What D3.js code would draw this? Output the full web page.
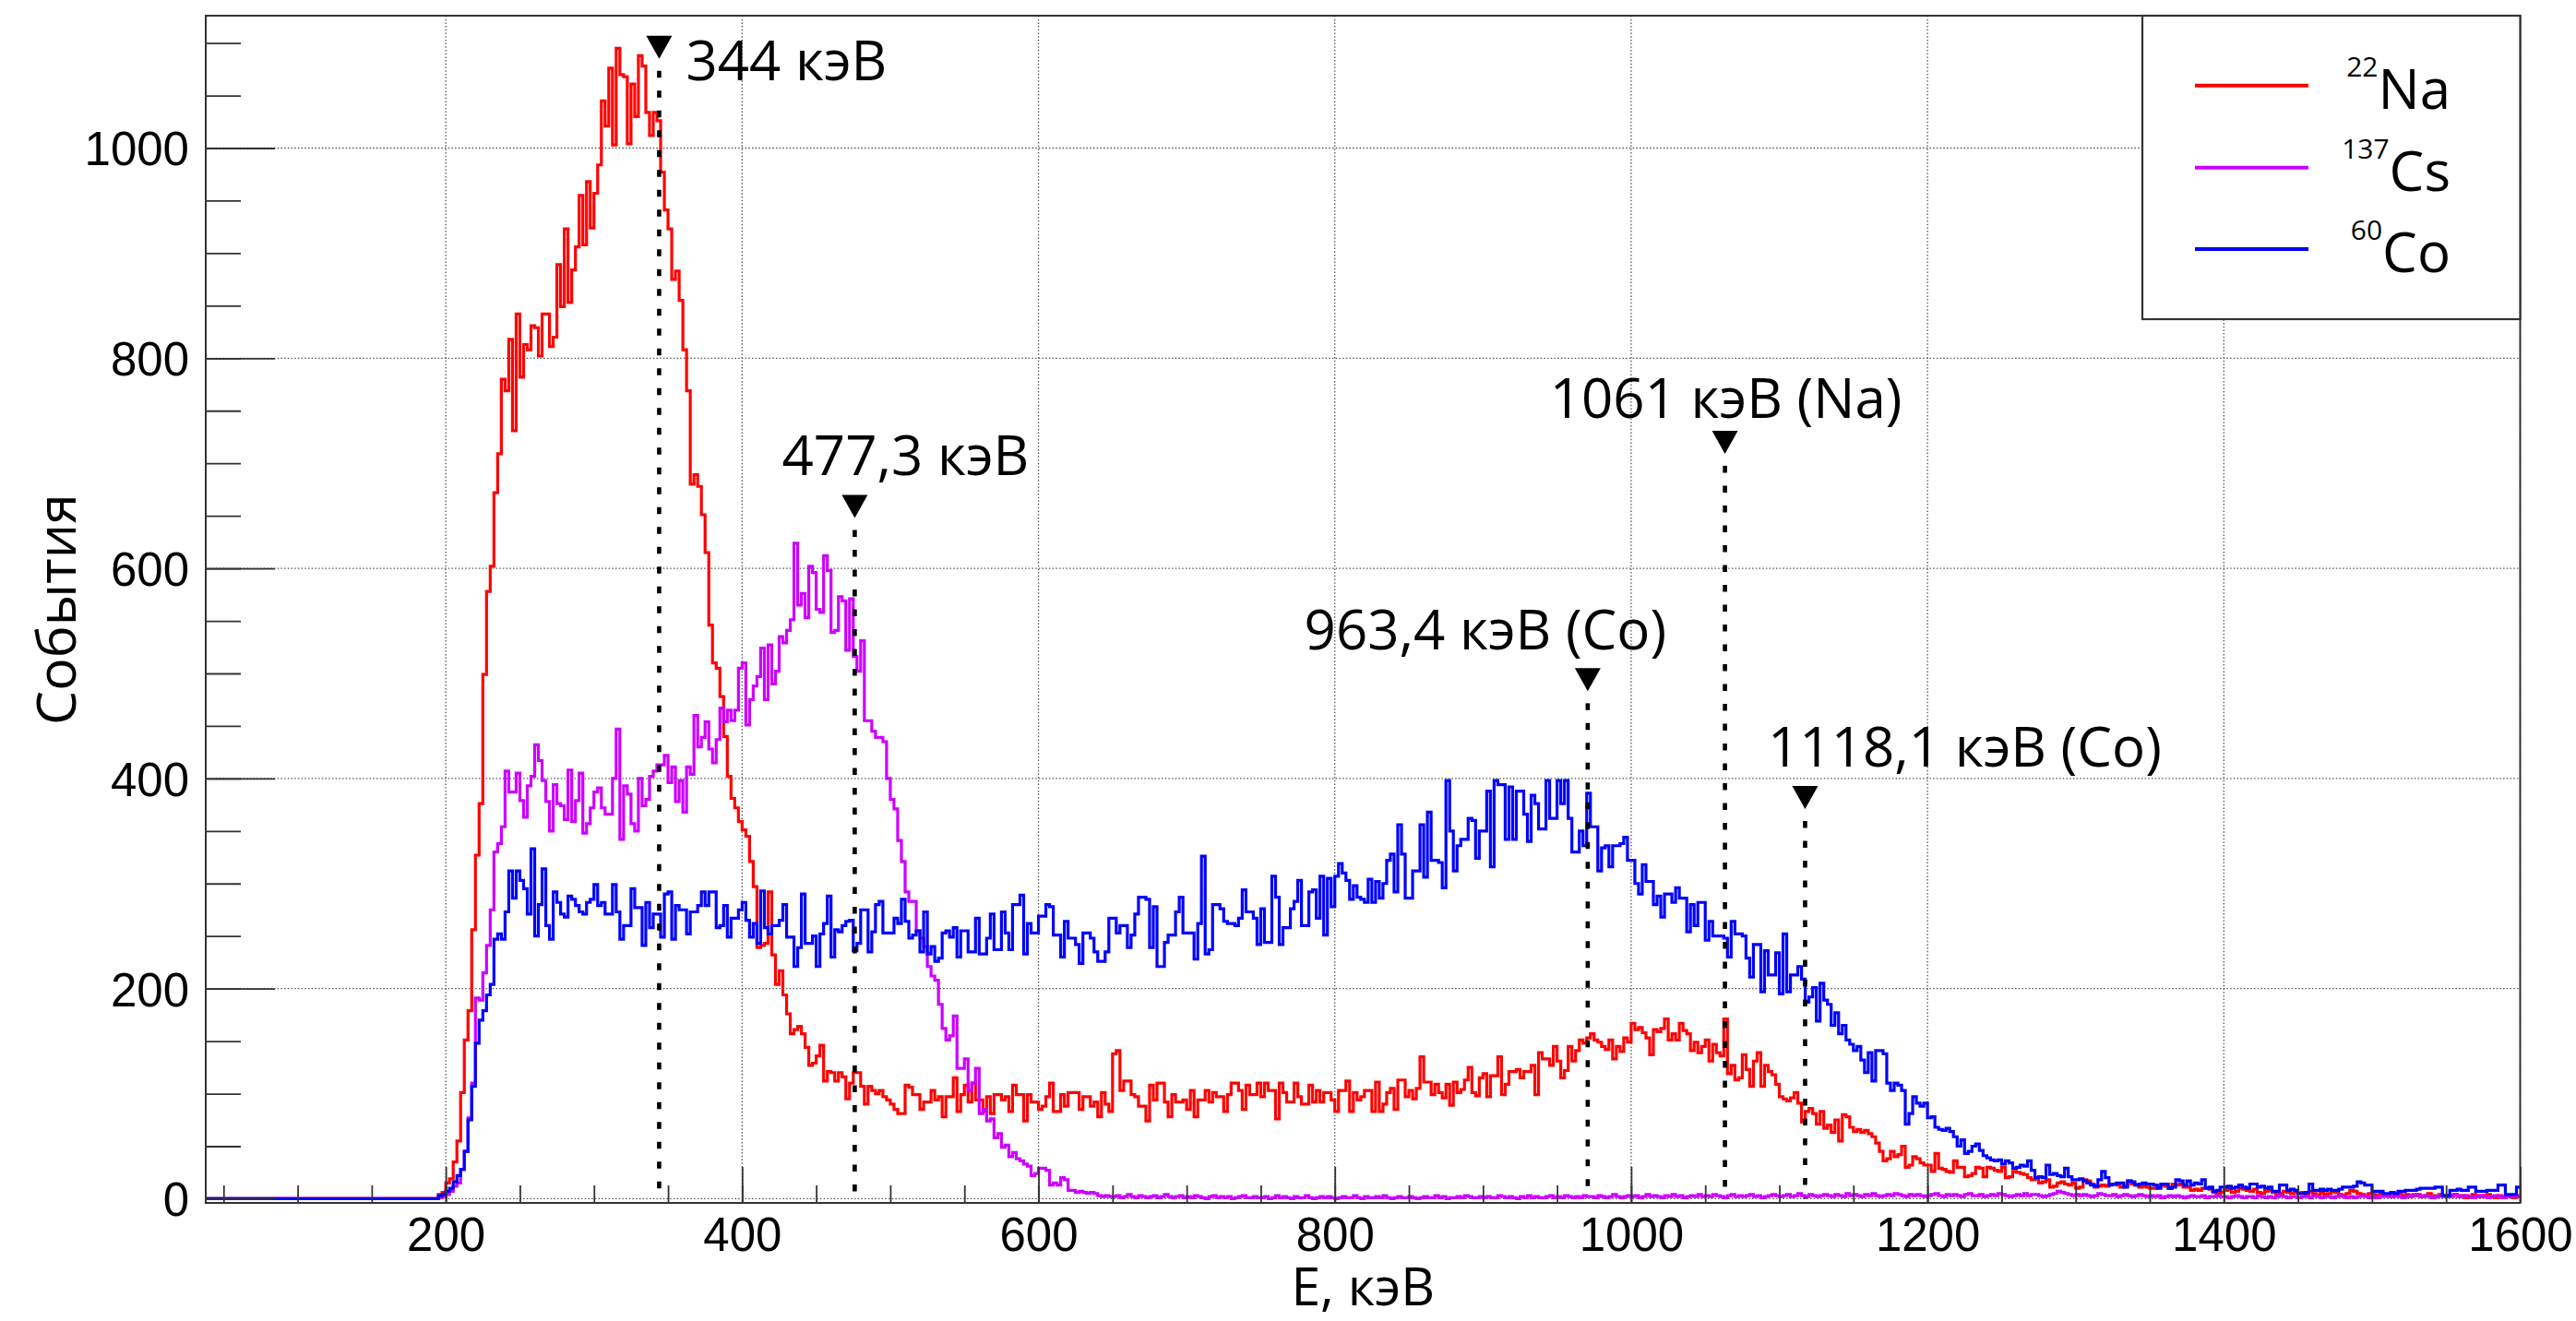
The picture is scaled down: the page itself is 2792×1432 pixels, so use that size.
<!DOCTYPE html>
<html><head><meta charset="utf-8">
<script src="https://cdn.jsdelivr.net/npm/d3@7"></script>
<style>html,body{margin:0;padding:0;background:#fff;} svg{display:block;}</style>
</head><body>
<svg id="chart" width="2792" height="1432"></svg>
<script>
// ---------------- DATA ----------------
// histogram bins: lower edge = binStart + i*binWidth (keV); each row = 50 keV (20 bins)
const binStart = 0;
const binWidth = 2.5;

const naCounts = [
0,0,0,0,0,0,0,0,0,0,0,0,0,0,0,0,0,0,0,0,
0,0,0,0,0,0,0,0,0,0,0,0,0,0,0,0,0,0,0,0,
0,0,0,0,0,0,0,0,0,0,0,0,0,0,0,0,0,0,0,0,
0,0,0,0,0,0,0,0,0,0,0,0,0,0,0,0,0,0,4,6,
15,19,35,55,101,151,179,256,327,376,499,578,602,672,709,780,769,818,731,842,
782,813,808,831,829,802,842,842,811,820,889,849,923,853,884,906,955,908,968,924,
957,984,1045,1021,1076,1003,1095,1070,1068,1004,1061,1030,1088,1078,1034,1012,1034,1026,977,941,
923,875,883,855,808,769,680,689,678,651,615,546,510,505,478,440,402,381,372,359,
351,345,321,297,239,241,243,292,232,204,217,194,176,157,161,164,157,144,127,129,
136,146,112,121,120,112,120,116,95,110,120,120,107,90,107,103,100,103,97,94,
90,85,81,81,108,106,99,99,85,92,92,103,94,97,78,97,97,115,83,99,
108,92,110,94,94,83,97,81,99,99,94,97,83,108,99,99,74,99,92,92,
85,88,97,110,83,83,99,88,101,101,101,85,97,97,88,92,78,101,90,83,
138,141,103,112,112,99,97,88,88,74,108,94,110,110,92,78,99,92,92,94,
85,103,78,94,94,103,92,101,97,97,83,99,110,110,103,85,108,99,99,110,
97,110,103,103,76,110,101,92,92,110,97,90,90,108,92,103,92,101,101,94,
83,103,103,112,83,101,94,97,103,103,83,111,83,90,101,105,85,113,113,97,
103,95,105,135,111,111,99,109,101,96,109,89,111,101,104,113,125,101,98,115,
119,97,117,117,135,99,109,121,121,123,115,121,121,127,99,139,133,133,127,145,
131,115,122,145,131,141,151,148,153,157,151,149,145,142,151,133,145,140,153,149,
167,161,163,158,153,137,161,159,162,171,151,157,151,167,160,157,141,149,139,145,
151,131,147,139,136,171,119,127,113,115,137,123,107,131,139,107,127,121,118,109,
97,95,93,96,101,91,73,83,86,81,71,83,67,70,63,75,55,80,78,68,
64,66,63,65,62,59,53,45,36,38,45,40,42,50,30,32,40,38,34,32,
32,26,43,29,28,26,25,36,30,30,21,22,24,30,29,21,30,29,27,26,
30,20,21,26,25,24,23,20,18,19,15,16,18,11,12,15,16,14,13,15,
10,11,18,17,14,11,12,13,12,14,14,13,11,12,17,14,13,11,12,11,
10,10,12,13,12,10,14,13,14,11,11,8,9,8,10,10,9,6,5,6,
8,9,6,7,10,9,8,7,9,6,5,7,8,6,4,5,7,6,5,6,
5,6,4,7,5,3,6,4,5,7,6,4,3,5,8,7,5,4,3,5,
4,3,5,4,3,2,4,5,3,4,2,3,4,2,3,5,3,2,4,3,
2,3,4,2,3,1,2,4,3,2,3,4,2,1,3,2,3,2,1,2
];

const csCounts = [
0,0,0,0,0,0,0,0,0,0,0,0,0,0,0,0,0,0,0,0,
0,0,0,0,0,0,0,0,0,0,0,0,0,0,0,0,0,0,0,0,
0,0,0,0,0,0,0,0,0,0,0,0,0,0,0,0,0,0,0,0,
0,0,0,0,0,0,0,0,0,0,0,0,0,0,0,0,0,0,1,2,
4,7,12,15,28,45,77,110,191,189,215,241,275,330,338,354,407,387,387,405,
379,363,393,402,432,417,398,378,350,394,376,374,361,408,359,379,405,348,357,372,
387,391,372,366,366,400,447,342,393,385,357,350,400,374,380,402,407,413,413,422,
396,411,378,398,368,411,404,460,430,439,454,428,415,437,467,454,465,455,465,505,
510,451,475,488,497,524,475,527,490,502,535,529,541,551,624,565,576,553,602,596,
561,558,612,598,539,541,573,569,522,571,516,502,531,455,455,445,439,439,435,400,
380,371,341,321,292,283,283,255,248,240,221,212,208,185,162,151,155,174,124,124,
133,103,110,124,81,85,74,76,58,62,49,51,40,44,38,36,33,31,22,24,
29,29,27,13,15,13,20,18,8,8,6,7,6,5,6,5,3,2,3,2,
2,3,1,2,4,2,1,3,2,1,2,3,1,2,4,2,1,2,3,1,
2,1,3,2,1,0,2,3,1,2,1,2,0,1,2,3,1,1,2,1,
1,2,0,1,3,1,2,1,0,2,1,1,3,1,0,1,2,1,2,1,
0,1,2,1,1,3,1,0,2,1,1,2,1,3,1,0,1,2,1,1,
2,1,0,1,2,1,1,3,1,2,0,1,1,2,1,3,2,1,1,2,
1,2,1,1,3,2,1,2,1,0,2,1,3,1,2,1,1,2,3,1,
2,1,3,2,1,2,1,3,2,2,1,3,2,1,2,4,2,1,2,3,
2,3,1,2,4,2,3,2,1,3,2,4,2,3,1,2,3,2,4,2,
3,2,4,3,2,1,3,4,2,3,2,3,4,2,3,1,2,3,4,3,
2,3,4,2,3,5,3,2,4,3,2,3,4,3,2,4,3,2,5,3,
4,3,2,4,3,5,3,2,3,4,3,5,4,3,2,4,3,4,3,2,
3,4,5,3,2,4,3,4,3,2,4,5,3,3,4,2,3,4,3,5,
4,3,2,3,4,3,5,3,4,4,3,2,3,4,5,7,6,5,4,3,
4,3,4,3,2,3,5,4,3,3,4,2,3,4,3,2,3,4,3,2,
3,2,3,1,2,3,2,3,2,1,2,3,2,2,3,1,2,2,3,2,
2,1,2,3,2,1,2,2,1,3,2,1,2,1,2,3,2,1,2,2,
1,2,2,1,3,2,1,2,2,1,2,3,2,1,2,1,2,3,2,1,
2,1,2,3,2,2,3,2,1,2,3,4,3,2,3,2,1,2,3,2,
3,2,4,3,2,3,2,1,2,3,2,1,2,3,2,1,2,3,2,3
];

const coCounts = [
0,0,0,0,0,0,0,0,0,0,0,0,0,0,0,0,0,0,0,0,
0,0,0,0,0,0,0,0,0,0,0,0,0,0,0,0,0,0,0,0,
0,0,0,0,0,0,0,0,0,0,0,0,0,0,0,0,0,0,0,0,
0,0,0,0,0,0,0,0,0,0,0,0,0,0,0,0,0,0,3,4,
7,10,16,22,28,45,75,107,148,170,179,194,204,247,252,247,273,312,286,312,
303,295,271,333,250,280,314,260,247,292,282,271,268,288,285,279,273,271,282,285,
299,279,282,271,271,299,273,247,260,260,295,277,277,241,282,258,271,271,249,290,
292,247,279,275,275,252,273,273,279,292,279,292,292,258,260,279,249,267,267,275,
282,265,249,262,243,293,258,252,260,260,265,280,249,249,221,239,290,243,243,250,
221,252,262,288,230,256,254,260,264,265,236,243,275,275,235,254,280,283,253,253,
253,267,262,285,264,248,251,255,235,273,233,240,226,229,253,255,249,258,230,255,
255,235,235,267,233,233,248,271,237,237,273,253,237,280,280,289,233,262,253,253,
269,269,280,278,251,251,230,264,248,248,242,224,253,253,248,235,226,226,235,267,
267,253,260,260,239,251,271,287,287,285,239,278,221,221,244,251,251,273,287,253,
253,253,228,262,326,233,237,280,280,276,264,262,262,260,267,294,273,273,267,242,
276,244,244,307,287,242,258,258,276,283,303,260,260,292,294,267,307,251,305,278,
307,319,310,303,285,298,287,285,282,304,282,302,286,300,322,328,292,356,328,286,
286,312,312,356,306,368,322,322,320,296,398,350,312,336,342,342,362,360,324,350,
350,388,316,398,394,394,342,392,342,388,388,366,340,384,376,352,352,398,362,362,
398,376,398,362,330,330,350,336,386,354,354,312,334,336,316,336,336,338,344,322,
322,300,290,318,302,302,280,288,268,290,290,282,296,286,286,254,280,260,282,282,
246,264,250,250,250,248,230,264,252,252,250,229,211,242,242,197,236,213,213,234,
195,252,197,213,213,221,209,187,192,201,169,205,189,185,165,177,157,165,151,147,
141,145,132,120,139,112,141,141,138,110,103,110,108,103,71,81,97,91,88,91,
77,78,68,66,65,67,64,59,50,56,43,45,50,52,46,41,39,37,36,37,
33,36,34,29,30,32,31,36,27,20,21,20,32,23,24,22,21,29,21,18,
18,19,17,15,13,12,18,26,20,13,14,15,15,11,17,16,13,14,15,14,
14,13,10,14,14,10,11,18,17,13,17,13,15,14,18,10,11,7,8,11,
11,12,10,11,13,11,10,14,14,11,12,10,11,7,7,13,13,8,9,8,
5,5,6,14,8,8,9,8,9,8,8,9,11,11,11,12,16,15,13,13,
7,7,7,5,5,6,5,7,7,8,8,8,9,10,10,10,10,11,11,3,
3,8,8,9,8,8,11,11,7,7,7,8,8,8,13,13,4,4,4,11
];

const seriesElements = ["Na", "Cs", "Co"];
const seriesMass = ["22", "137", "60"];
const xTickValues = [200, 400, 600, 800, 1000, 1200, 1400, 1600];
const yTickValues = [0, 200, 400, 600, 800, 1000];
const markerEnergies = [344, 476, 970.7, 1063.3, 1117.4];
const markerTipCounts = [1085, 648, 483, 709, 371];
const markerLabels = ["344 кэВ", "477,3 кэВ", "963,4 кэВ (Co)", "1061 кэВ (Na)", "1118,1 кэВ (Co)"];
const xTitle = "E, кэВ";
const yTitle = "События";

// ---------------- STYLE / LAYOUT ----------------
const W = 2792, H = 1432;
const frame = {left: 223, right: 2731.5, top: 17, bottom: 1304};
const colors = ["#ff0000", "#cc00ff", "#0000ff"];
const labelOffsets = [[138, 23], [55, -46], [-111, -45.5], [1, -39], [173, -46]]; // px relative to triangle tip
const annFont = 60;

const svg = d3.select("#chart");
svg.append("rect").attr("width", W).attr("height", H).attr("fill", "#fff");

const x = d3.scaleLinear().domain([38, 1600]).range([frame.left, frame.right]);
const y = d3.scaleLinear().domain([-4, 1126]).range([frame.bottom, frame.top]);

svg.append("defs").append("clipPath").attr("id", "clip").append("rect")
  .attr("x", frame.left).attr("y", frame.top)
  .attr("width", frame.right - frame.left).attr("height", frame.bottom - frame.top);

// grid
const grid = svg.append("g").attr("stroke", "#555").attr("stroke-width", 1.3).attr("stroke-dasharray", "1.5,2.2");
xTickValues.forEach(v => grid.append("line").attr("x1", x(v)).attr("x2", x(v)).attr("y1", frame.top).attr("y2", frame.bottom));
yTickValues.forEach(v => grid.append("line").attr("x1", frame.left).attr("x2", frame.right).attr("y1", y(v)).attr("y2", y(v)));

// histograms
const lineGen = d3.line().x(d => x(d[0])).y(d => y(d[1])).curve(d3.curveStepAfter);
function histPoints(counts) {
  const pts = counts.map((c, i) => [binStart + i * binWidth, c]);
  pts.push([binStart + counts.length * binWidth, counts[counts.length - 1]]);
  return pts;
}
const hg = svg.append("g").attr("clip-path", "url(#clip)");
[naCounts, csCounts, coCounts].forEach((counts, k) => {
  hg.append("path").attr("d", lineGen(histPoints(counts)))
    .attr("fill", "none").attr("stroke", colors[k]).attr("stroke-width", 3.2)
    .attr("stroke-linejoin", "miter");
});

// axes
const tickFont = "'Liberation Sans', Arial, Helvetica, sans-serif";
const xAxisMajor = d3.axisBottom(x).tickValues(xTickValues).tickSize(-39).tickPadding(16).tickFormat(d3.format("d"));
const xAxisMinor = d3.axisBottom(x).tickValues(d3.range(50, 1601, 50)).tickSize(-19).tickFormat("");
const yAxisMajor = d3.axisLeft(y).tickValues(yTickValues).tickSize(-75).tickPadding(18).tickFormat(d3.format("d"));
const yAxisMinor = d3.axisLeft(y).tickValues(d3.range(0, 1101, 50)).tickSize(-38).tickFormat("");

function styleAxis(g) {
  g.select(".domain").remove();
  g.selectAll(".tick line").attr("stroke", "#333").attr("stroke-width", 1.8);
  g.selectAll(".tick text").attr("fill", "#000").style("font-family", tickFont).style("font-size", "51px");
}
svg.append("g").attr("transform", `translate(0,${frame.bottom})`).call(xAxisMinor).call(styleAxis);
svg.append("g").attr("transform", `translate(0,${frame.bottom})`).call(xAxisMajor).call(styleAxis);
svg.append("g").attr("transform", `translate(${frame.left},0)`).call(yAxisMinor).call(styleAxis);
svg.append("g").attr("transform", `translate(${frame.left},0)`).call(yAxisMajor).call(styleAxis)
  .selectAll(".tick text").attr("dy", "0.36em");

// frame
svg.append("rect").attr("x", frame.left).attr("y", frame.top)
  .attr("width", frame.right - frame.left).attr("height", frame.bottom - frame.top)
  .attr("fill", "none").attr("stroke", "#333").attr("stroke-width", 2);

// axis titles
const textFont = "'Open Sans', 'Noto Sans', sans-serif";
svg.append("text").attr("x", (frame.left + frame.right) / 2).attr("y", 1415)
  .attr("text-anchor", "middle").style("font-family", textFont).style("font-size", "57px").text(xTitle);
svg.append("text").attr("transform", `translate(82,${(frame.top + frame.bottom) / 2}) rotate(-90)`)
  .attr("text-anchor", "middle").style("font-family", textFont).style("font-size", "59px").text(yTitle);

// markers
const mg = svg.append("g");
markerEnergies.forEach((e, i) => {
  const mx = x(e), ty = y(markerTipCounts[i]);
  mg.append("line").attr("x1", mx).attr("x2", mx).attr("y1", ty + 13).attr("y2", y(0))
    .attr("stroke", "#000").attr("stroke-width", 4.6).attr("stroke-dasharray", "7.5,14");
  mg.append("path").attr("d", `M${mx - 14},${ty - 25}L${mx + 14},${ty - 25}L${mx},${ty}Z`).attr("fill", "#000");
  mg.append("text").attr("x", mx + labelOffsets[i][0]).attr("y", ty + labelOffsets[i][1])
    .attr("text-anchor", "middle").style("font-family", textFont).style("font-size", annFont + "px")
    .text(markerLabels[i]);
});

// legend
const lg = svg.append("g");
lg.append("rect").attr("x", 2322).attr("y", frame.top).attr("width", frame.right - 2322).attr("height", 346 - frame.top)
  .attr("fill", "#fff").attr("stroke", "#333").attr("stroke-width", 2.2);
const legendRowY = [92.7, 181.7, 270];
seriesElements.forEach((el, k) => {
  const ly = legendRowY[k];
  lg.append("line").attr("x1", 2379).attr("x2", 2502).attr("y1", ly).attr("y2", ly)
    .attr("stroke", colors[k]).attr("stroke-width", 4);
  const t = lg.append("text").attr("x", 2656).attr("y", ly + 25).attr("text-anchor", "end")
    .style("font-family", textFont).style("font-size", "60px");
  t.append("tspan").attr("dy", -35).style("font-size", "30px").text(seriesMass[k]);
  t.append("tspan").attr("dy", 35).text(el);
});
</script>
</body></html>
